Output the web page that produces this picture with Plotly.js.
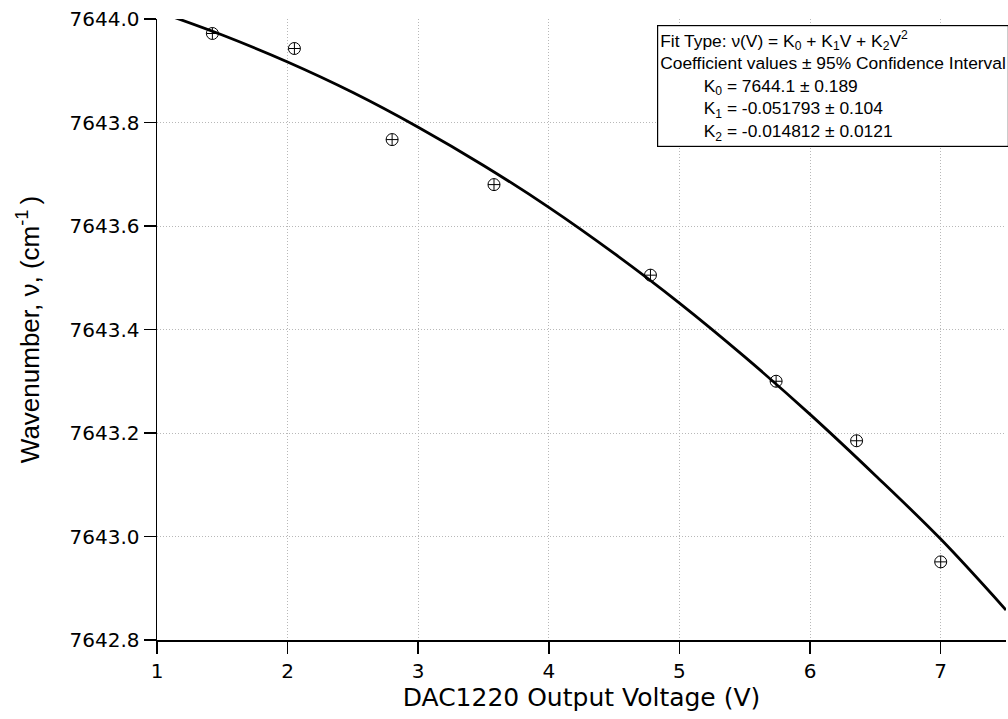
<!DOCTYPE html>
<html>
<head>
<meta charset="utf-8">
<script src="https://cdn.plot.ly/plotly-3.0.1.min.js"></script>
<style>html,body{margin:0;padding:0;background:#fff;}#chart{width:1008px;height:719px;}</style>
</head>
<body>
<div id="chart"></div>
<script>
// Measured data points
var voltage = [1.424, 2.052, 2.80, 3.58, 4.778, 5.74, 6.356, 7.0];
var wavenumber = [7643.972, 7643.943, 7643.767, 7643.680, 7643.505, 7643.300, 7643.185, 7642.951];

// Fit curve
var fitVoltage = [1.1, 1.5, 2.0, 2.5, 3.0, 3.5, 4.0, 4.5, 5.0, 5.5, 6.0, 6.5, 7.0, 7.5];
var fitWavenumber = [7644.006, 7643.969, 7643.917, 7643.858, 7643.791, 7643.717, 7643.636, 7643.547, 7643.451, 7643.347, 7643.236, 7643.118, 7642.995, 7642.858];

var xTicks = [1, 2, 3, 4, 5, 6, 7];
var yTicks = [7642.8, 7643.0, 7643.2, 7643.4, 7643.6, 7643.8, 7644.0];

var indent = "\u00a0\u00a0\u00a0\u00a0\u00a0\u00a0\u00a0\u00a0\u00a0";
var boxLines = [
  "Fit Type: ν(V) = K<sub>0</sub> + K<sub>1</sub>V + K<sub>2</sub>V<sup>2</sup>",
  "Coefficient values ± 95% Confidence Interval",
  indent + "K<sub>0</sub> = 7644.1 ± 0.189",
  indent + "K<sub>1</sub> = -0.051793 ± 0.104",
  indent + "K<sub>2</sub> = -0.014812 ± 0.0121"
];

var traces = [
  {
    x: fitVoltage, y: fitWavenumber, type: 'scatter', mode: 'lines',
    line: {color: '#000', width: 2.8, shape: 'spline', smoothing: 1},
    hoverinfo: 'skip', showlegend: false
  },
  {
    x: voltage, y: wavenumber, type: 'scatter', mode: 'markers',
    marker: {symbol: 'circle-cross-open', size: 12, color: '#000', line: {width: 1, color: '#000'}},
    showlegend: false
  }
];

var tickFont = {family: 'DejaVu Sans, Verdana, sans-serif', size: 20, color: '#000'};

var layout = {
  width: 1008, height: 719,
  margin: {l: 157, r: 2, t: 19, b: 79},
  paper_bgcolor: '#fff', plot_bgcolor: '#fff',
  showlegend: false,
  xaxis: {
    range: [1, 7.5], tickvals: xTicks, ticktext: xTicks.map(String),
    ticks: 'outside', ticklen: 12, tickcolor: '#000', tickwidth: 1.5,
    showline: true, linecolor: '#000', linewidth: 1.5,
    showgrid: true, gridcolor: '#b8b8b8', gridwidth: 1, griddash: '1px,2px',
    zeroline: false, tickfont: tickFont,
    title: {text: 'DAC1220 Output Voltage (V)', font: {family: 'DejaVu Sans, Verdana, sans-serif', size: 25, color: '#000'}, standoff: 4}
  },
  yaxis: {
    range: [7642.8, 7644.0], tickvals: yTicks, ticktext: yTicks.map(function(v){return v.toFixed(1);}),
    ticks: 'outside', ticklen: 12, tickcolor: '#000', tickwidth: 1.5,
    showline: true, linecolor: '#000', linewidth: 1.5,
    showgrid: true, gridcolor: '#b8b8b8', gridwidth: 1, griddash: '1px,2px',
    zeroline: false, tickfont: tickFont,
    title: {text: 'Wavenumber, ν, (cm<sup>-1 </sup>)', font: {family: 'Liberation Sans, Arial, sans-serif', size: 26, color: '#000'}, standoff: 22}
  },
  annotations: [{
    xref: 'paper', yref: 'paper', x: 0.5885, y: 0.99, xanchor: 'left', yanchor: 'top',
    text: boxLines.join('<br>'), align: 'left', showarrow: false,
    font: {family: 'Liberation Sans, Arial, sans-serif', size: 17.4, color: '#000'},
    bordercolor: '#000', borderwidth: 1.2, borderpad: 2, bgcolor: '#fff'
  }]
};

Plotly.newPlot('chart', traces, layout, {displayModeBar: false, staticPlot: true});
</script>
</body>
</html>
